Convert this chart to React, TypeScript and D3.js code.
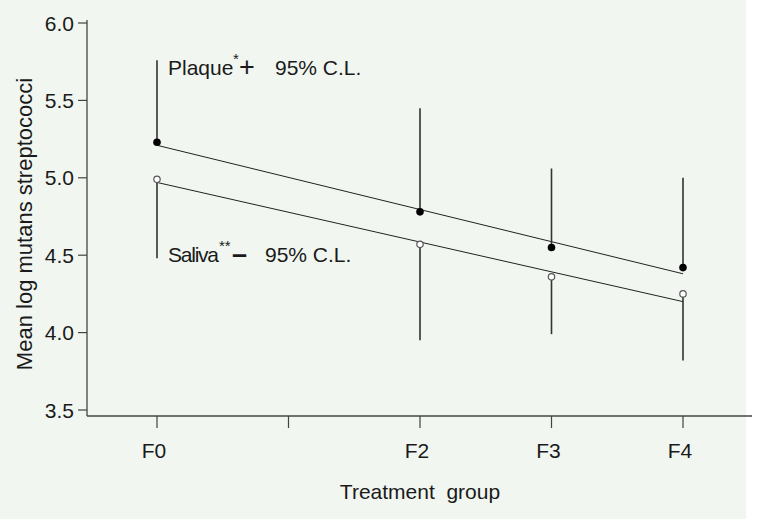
import React from "react";
import * as d3 from "d3";

const categories = ["F0", "F1", "F2", "F3", "F4"];
const tickLabels = ["F0", "", "F2", "F3", "F4"];
const yTicks = [3.5, 4.0, 4.5, 5.0, 5.5, 6.0];

const plaqueGroups = ["F0", "F2", "F3", "F4"];
const plaqueMean = [5.23, 4.78, 4.55, 4.42];
const plaqueUpper = [5.76, 5.45, 5.06, 5.0];
const plaqueFit = [5.21, 4.38]; // at F0 and F4

const salivaGroups = ["F0", "F2", "F3", "F4"];
const salivaMean = [4.99, 4.57, 4.36, 4.25];
const salivaLower = [4.48, 3.95, 3.99, 3.82];
const salivaFit = [4.97, 4.2];

export default function App() {
  const W = 762, H = 519;
  const x = d3.scalePoint<string>().domain(categories).range([157, 683]);
  const y = d3.scaleLinear().domain([3.5, 6.0]).range([410, 23]);
  const axisX = 87, axisY = 416;
  const font = "'Liberation Sans', Arial, sans-serif";
  const fitLine = d3.line<[number, number]>().x(d => d[0]).y(d => d[1]);
  const txt = "#1a1a1a";
  return (
    <svg width={W} height={H} style={{ position: "absolute", left: 0, top: 0 }}>
      <rect x={0} y={0} width={W} height={H} fill="#f1f6f1" />
      <rect x={746} y={0} width={16} height={H} fill="#ffffff" />
      {/* axes */}
      <line x1={axisX} x2={axisX} y1={20} y2={axisY} stroke="#444" strokeWidth={1.3} />
      <line x1={axisX} x2={752} y1={axisY} y2={axisY} stroke="#444" strokeWidth={1.3} />
      {yTicks.map(t => (
        <g key={t}>
          <line x1={axisX - 9} x2={axisX} y1={y(t)} y2={y(t)} stroke="#444" strokeWidth={1.2} />
          <text x={axisX - 13} y={y(t)} dy="0.36em" textAnchor="end" fontFamily={font} fontSize={21} fill={txt}>{t.toFixed(1)}</text>
        </g>
      ))}
      {categories.map((c, i) => (
        <g key={c}>
          <line x1={x(c)} x2={x(c)} y1={axisY} y2={axisY + 12} stroke="#444" strokeWidth={1.2} />
          <text x={x(c)! - 3} y={458} textAnchor="middle" fontFamily={font} fontSize={21} fill={txt}>{tickLabels[i]}</text>
        </g>
      ))}
      <text x={420} y={499} textAnchor="middle" fontFamily={font} fontSize={21} fill={txt} style={{ whiteSpace: "pre" }}>{"Treatment  group"}</text>
      <text transform={`translate(32, 224) rotate(-90)`} textAnchor="middle" fontFamily={font} fontSize={22} fill={txt}>Mean log mutans streptococci</text>
      {/* regression lines */}
      <path d={fitLine([[x("F0")!, y(plaqueFit[0])], [x("F4")!, y(plaqueFit[1])]])!} stroke="#222" strokeWidth={1} fill="none" />
      <path d={fitLine([[x("F0")!, y(salivaFit[0])], [x("F4")!, y(salivaFit[1])]])!} stroke="#222" strokeWidth={1} fill="none" />
      {/* error bars */}
      {plaqueGroups.map((g, i) => (
        <line key={"pu" + g} x1={x(g)} x2={x(g)} y1={y(plaqueUpper[i])} y2={y(plaqueMean[i])} stroke="#333" strokeWidth={1.6} />
      ))}
      {salivaGroups.map((g, i) => (
        <line key={"sl" + g} x1={x(g)} x2={x(g)} y1={y(salivaMean[i])} y2={y(salivaLower[i])} stroke="#333" strokeWidth={1.6} />
      ))}
      {plaqueGroups.map((g, i) => (
        <circle key={"p" + g} cx={x(g)} cy={y(plaqueMean[i])} r={3.8} fill="#000" />
      ))}
      {salivaGroups.map((g, i) => (
        <circle key={"s" + g} cx={x(g)} cy={y(salivaMean[i])} r={3.2} fill="#fff" stroke="#555" strokeWidth={1.2} />
      ))}
      {/* annotations */}
      <text y={75} fontFamily={font} fontSize={21} fill={txt}>
        <tspan x={168}>Plaque</tspan>
        <tspan x={233} y={64} fontSize={15}>*</tspan>
        <tspan x={239} y={76} fontSize={27}>+</tspan>
        <tspan x={275} y={75}>95% C.L.</tspan>
      </text>
      <text y={262} fontFamily={font} fontSize={21} fill={txt}>
        <tspan x={168} textLength={51}>Saliva</tspan>
        <tspan x={219} y={251} fontSize={15}>**</tspan>
        <tspan x={232} y={263} fontSize={27} fontWeight="bold">–</tspan>
        <tspan x={265} y={262}>95% C.L.</tspan>
      </text>
    </svg>
  );
}
